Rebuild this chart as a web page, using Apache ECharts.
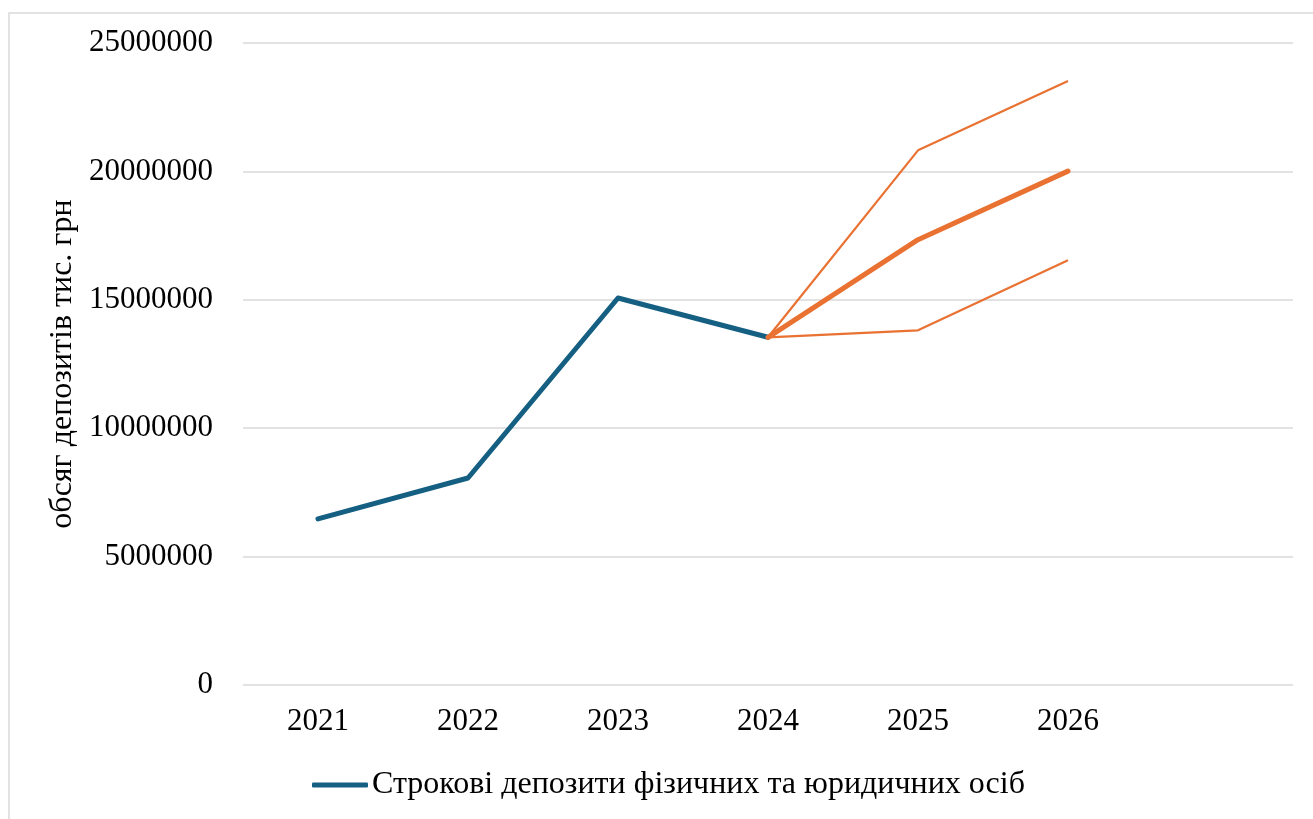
<!DOCTYPE html>
<html>
<head>
<meta charset="utf-8">
<script src="https://cdn.jsdelivr.net/npm/echarts@6/dist/echarts.min.js"></script>
<style>
  html, body { margin: 0; padding: 0; background: #fff; }
  #chart { width: 1313px; height: 819px; }
</style>
</head>
<body>
<div id="chart"></div>
<script>
// years on the x axis; the last slot is left empty like in the source chart
const years = ['2021', '2022', '2023', '2024', '2025', '2026', ''];
const yTicks = [0, 5000000, 10000000, 15000000, 20000000, 25000000];

const actual = [6470000, 8060000, 15070000, 13540000, null, null, null];
const forecast = [null, null, null, 13540000, 17340000, 20010000, null];
const lowerBound = [null, null, null, 13540000, 13810000, 16540000, null];
const upperBound = [null, null, null, 13540000, 20820000, 23520000, null];

const seriesName = 'Строкові депозити фізичних та юридичних осіб';
const blue = '#156082';
const orange = '#e97132';
const font = '"Liberation Serif", "Times New Roman", serif';

const chart = echarts.init(document.getElementById('chart'));
chart.setOption({
  animation: false,
  textStyle: { fontFamily: font },
  graphic: [{
    type: 'rect',
    shape: { x: 9, y: 13, width: 1400, height: 900 },
    style: { fill: 'none', stroke: '#d9d9d9', lineWidth: 1.5 },
    silent: true
  }],
  grid: { left: 243, right: 20, top: 43, bottom: 134 },
  legend: {
    left: 307,
    top: 764,
    data: [{ name: seriesName, icon: 'roundRect' }],
    itemWidth: 56,
    itemHeight: 5,
    itemStyle: { color: blue },
    textStyle: { fontFamily: font, fontSize: 32, color: '#000', padding: [0, 0, 0, -1] }
  },
  xAxis: {
    type: 'category',
    data: years,
    boundaryGap: true,
    axisLine: { show: false },
    axisTick: { show: false },
    axisLabel: { fontFamily: font, fontSize: 31, color: '#000', margin: 21 }
  },
  yAxis: {
    type: 'value',
    min: yTicks[0],
    max: yTicks[yTicks.length - 1],
    interval: 5000000,
    name: 'обсяг депозитів тис. грн',
    nameLocation: 'middle',
    nameRotate: 90,
    nameGap: 162,
    nameTextStyle: { fontFamily: font, fontSize: 32, color: '#000' },
    axisLine: { show: false },
    axisTick: { show: false },
    axisLabel: {
      fontFamily: font,
      fontSize: 31,
      color: '#000',
      margin: 30,
      formatter: (v) => String(v)
    },
    splitLine: { lineStyle: { color: '#d9d9d9', width: 1.5 } }
  },
  series: [
    {
      name: seriesName,
      type: 'line',
      data: actual,
      symbol: 'none',
      color: blue,
      lineStyle: { width: 5, color: blue, cap: 'round', join: 'round' },
      z: 3
    },
    {
      name: 'Прогноз',
      type: 'line',
      data: forecast,
      symbol: 'none',
      color: orange,
      lineStyle: { width: 5, color: orange, cap: 'round', join: 'round' },
      z: 4
    },
    {
      name: 'Нижня межа',
      type: 'line',
      data: lowerBound,
      symbol: 'none',
      color: orange,
      lineStyle: { width: 2.2, color: orange }
    },
    {
      name: 'Верхня межа',
      type: 'line',
      data: upperBound,
      symbol: 'none',
      color: orange,
      lineStyle: { width: 2.2, color: orange }
    }
  ]
});
</script>
</body>
</html>
